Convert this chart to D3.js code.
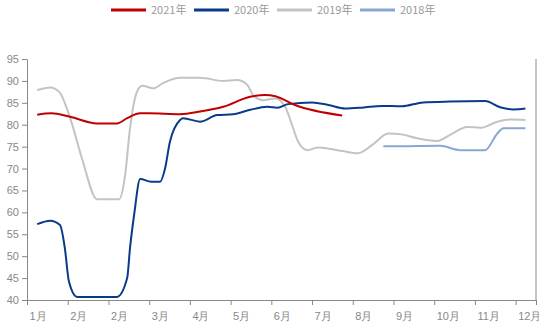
<!DOCTYPE html>
<html>
<head>
<meta charset="utf-8">
<script src="https://cdn.jsdelivr.net/npm/d3@7"></script>
<style>
  body { margin: 0; background: #fff; }
  svg { font-family: "Noto Sans CJK SC", "Noto Sans", sans-serif; }
  .axis text { fill: #888; font-size: 11px; }
  .axis path, .axis line { stroke: #888; }
</style>
</head>
<body>
<svg width="550" height="326"></svg>
<script>
// month labels along the bottom (tick positions 0..12)
const monthLabels = ["1月", "2月", "2月", "3月", "4月", "5月", "6月", "7月", "8月", "9月", "10月", "11月", "12月"];
const yTicks = [40, 45, 50, 55, 60, 65, 70, 75, 80, 85, 90, 95];

// series: x in month-tick units, value
const x2021 = [0.25, 0.6, 1.06, 1.72, 2.21, 2.46, 2.78, 3.0, 3.76, 4.25, 4.82, 5.48, 5.85, 6.1, 6.58, 7.74];
const v2021 = [82.3, 82.6, 81.8, 80.3, 80.3, 81.5, 82.6, 82.6, 82.4, 83.0, 84.1, 86.4, 86.8, 86.5, 84.5, 82.1];

const x2020 = [0.25, 0.57, 0.81, 0.93, 1.03, 1.23, 2.21, 2.46, 2.53, 2.63, 2.78, 3.05, 3.27, 3.39, 3.51, 3.76, 3.83, 4.25, 4.67, 5.06, 5.48, 5.9, 6.15, 6.41, 7.0, 7.4, 7.81, 8.23, 8.72, 9.2, 9.73, 10.39, 11.25, 11.62, 11.94, 12.24];
const v2020 = [57.3, 58.1, 57.1, 51.8, 44.2, 40.7, 40.7, 45, 51.9, 59.4, 67.6, 67.0, 67.0, 70.0, 76.1, 81.1, 81.5, 80.7, 82.2, 82.4, 83.4, 84.1, 83.9, 84.7, 85.1, 84.5, 83.7, 83.9, 84.3, 84.2, 85.1, 85.3, 85.4, 84.0, 83.5, 83.7];

const x2019 = [0.25, 0.57, 0.79, 1.06, 1.35, 1.72, 2.26, 2.41, 2.53, 2.7, 2.83, 3.1, 3.34, 3.76, 4.25, 4.82, 5.16, 5.41, 5.55, 5.8, 6.1, 6.34, 6.51, 6.66, 6.88, 7.15, 7.74, 8.13, 8.48, 8.87, 9.2, 9.58, 10.07, 10.39, 10.81, 11.13, 11.55, 11.87, 12.24];
const v2019 = [87.9, 88.5, 87.5, 81.5, 72.3, 63.0, 63.0, 68.5, 79.2, 87.5, 88.9, 88.3, 89.5, 90.7, 90.7, 90.0, 90.2, 89.1, 86.8, 85.6, 86.0, 84.1, 79.9, 76.1, 74.2, 74.8, 74.0, 73.5, 75.4, 78.0, 77.8, 76.9, 76.3, 77.7, 79.5, 79.3, 80.7, 81.2, 81.1];

const x2018 = [8.75, 9.16, 10.15, 10.64, 11.25, 11.55, 11.7, 12.24];
const v2018 = [75.1, 75.1, 75.2, 74.2, 74.2, 78.0, 79.2, 79.2];

const series = [
  { name: "2021年", xs: x2021, vs: v2021, color: "#c00000", width: 2 },
  { name: "2020年", xs: x2020, vs: v2020, color: "#0a3a8a", width: 2 },
  { name: "2019年", xs: x2019, vs: v2019, color: "#c3c3c3", width: 2 },
  { name: "2018年", xs: x2018, vs: v2018, color: "#8aa6d2", width: 2 }
];

const svg = d3.select("svg");
const plotLeft = 27, plotRight = 536, plotTop = 59, plotBottom = 300;

const x = d3.scaleLinear().domain([0, 12.5]).range([plotLeft, plotRight]);
const y = d3.scaleLinear().domain([40, 95]).range([plotBottom, plotTop]);

// y axis
svg.append("g")
  .attr("class", "axis")
  .attr("transform", "translate(" + plotLeft + ",0)")
  .call(d3.axisLeft(y).tickValues(yTicks).tickSize(5).tickPadding(3).tickSizeOuter(0));

// x axis
const xAxis = svg.append("g")
  .attr("class", "axis")
  .attr("transform", "translate(0," + plotBottom + ")")
  .call(d3.axisBottom(x)
    .tickValues(d3.range(0, 13).concat([12.5]))
    .tickSize(5)
    .tickSizeOuter(0)
    .tickFormat(d => monthLabels[d] || ""));
xAxis.selectAll("text")
  .attr("text-anchor", "start")
  .attr("dx", 2)
  .attr("dy", "1.05em");

// right border line
svg.append("line")
  .attr("x1", x(12.5)).attr("x2", x(12.5))
  .attr("y1", y(95)).attr("y2", y(40))
  .attr("stroke", "#888");

// lines
const line = d3.line()
  .x(d => x(d[0]))
  .y(d => y(d[1]))
  .curve(d3.curveMonotoneX);

// draw back to front: 2018, 2019, 2020, 2021
series.slice().reverse().forEach(s => {
  svg.append("path")
    .datum(s.xs.map((v, i) => [v, s.vs[i]]))
    .attr("fill", "none")
    .attr("stroke", s.color)
    .attr("stroke-width", s.width)
    .attr("d", line);
});

// legend
const legend = svg.append("g").attr("transform", "translate(111,10)");
series.forEach((s, i) => {
  const g = legend.append("g").attr("transform", "translate(" + (i * 83) + ",0)");
  g.append("line")
    .attr("x1", 0).attr("x2", 35)
    .attr("stroke", s.color)
    .attr("stroke-width", 3);
  g.append("text")
    .attr("x", 40)
    .attr("dy", "0.35em")
    .attr("fill", "#999")
    .attr("font-size", 11)
    .text(s.name);
});
</script>
</body>
</html>
